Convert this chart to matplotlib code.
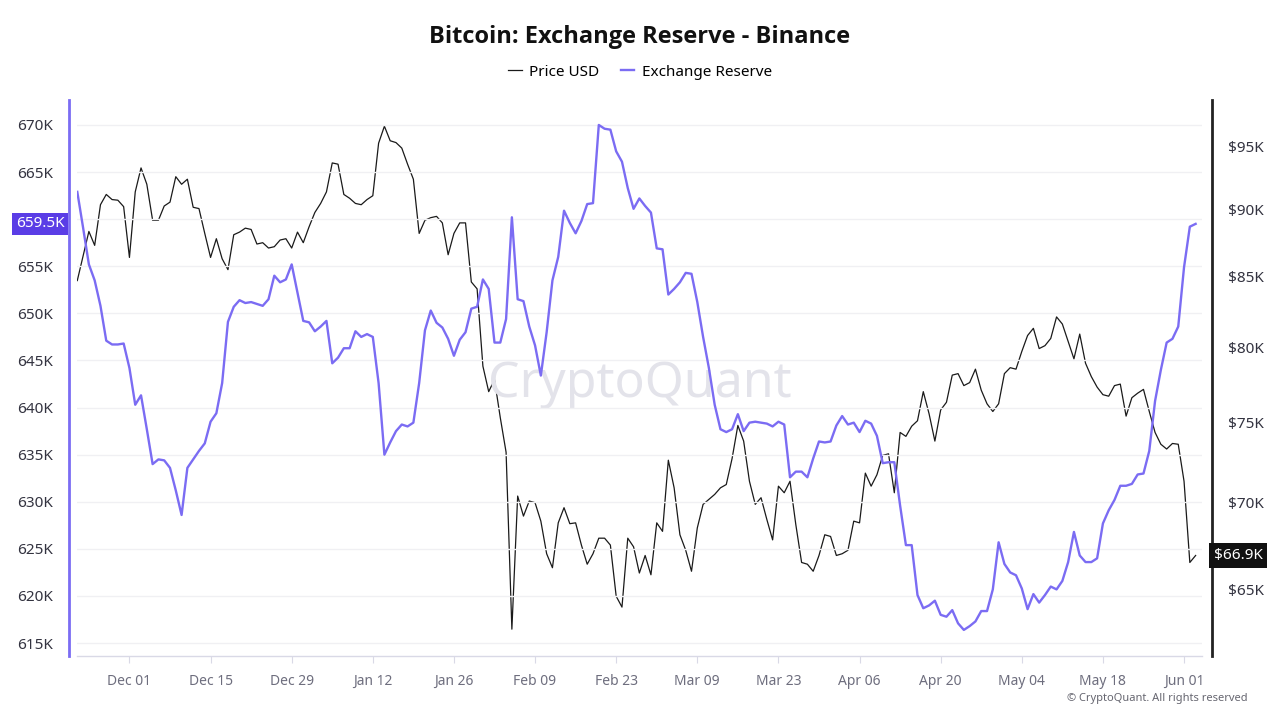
import numpy as np
import pandas as pd
import matplotlib
matplotlib.use('Agg')
import matplotlib.pyplot as plt
import matplotlib.dates as mdates
from matplotlib.ticker import FixedLocator, FuncFormatter, NullLocator
from matplotlib.transforms import blended_transform_factory

plt.rcParams['font.family'] = ['Noto Sans', 'DejaVu Sans']

# daily data, 2025-11-22 .. 2026-06-03
dates = pd.date_range('2025-11-22', periods=194, freq='D')

# Bitcoin price, thousands of USD
price_k = [
    84.7, 86.5, 88.35, 87.3, 90.4, 91.2, 90.8, 90.75, 90.25, 86.4,
    91.4, 93.3, 92.0, 89.2, 89.2, 90.3, 90.6, 92.6, 92.0, 92.4,
    90.2, 90.1, 88.2, 86.4, 87.8, 86.3, 85.5, 88.1, 88.3, 88.6,
    88.5, 87.4, 87.5, 87.1, 87.2, 87.7, 87.8, 87.1, 88.3, 87.5,
    88.7, 89.8, 90.5, 91.4, 93.7, 93.6, 91.2, 90.9, 90.5, 90.4,
    90.8, 91.1, 95.3, 96.7, 95.5, 95.35, 94.9, 93.6, 92.4, 88.2,
    89.2, 89.4, 89.5, 89.0, 86.6, 88.2, 89.0, 89.0, 84.6, 84.1,
    78.7, 77.0, 77.8, 75.3, 73.1, 62.8, 70.4, 69.2, 70.1, 70.0,
    68.9, 67.0, 66.2, 68.8, 69.7, 68.75, 68.8, 67.5, 66.4, 67.0,
    67.9, 67.9, 67.5, 64.6, 64.0, 67.9, 67.4, 65.9, 66.9, 65.8,
    68.8, 68.3, 72.6, 70.9, 68.1, 67.2, 66.0, 68.5, 69.9, 70.2,
    70.5, 70.9, 71.1, 72.7, 74.8, 73.8, 71.3, 69.9, 70.3, 69.0,
    67.8, 71.0, 70.6, 71.3, 68.7, 66.5, 66.4, 66.0, 66.9, 68.1,
    68.0, 66.9, 67.0, 67.2, 68.9, 68.8, 71.8, 71.0, 71.7, 72.9,
    73.0, 70.6, 74.35, 74.1, 74.75, 75.1, 77.0, 75.55, 73.8, 75.8,
    76.3, 78.1, 78.2, 77.4, 77.6, 78.5, 77.1, 76.2, 75.7, 76.2,
    78.2, 78.6, 78.5, 79.7, 80.8, 81.3, 79.9, 80.1, 80.6, 82.1,
    81.6, 80.4, 79.2, 80.9, 78.9, 78.0, 77.3, 76.8, 76.7, 77.4,
    77.5, 75.4, 76.6, 76.9, 77.15, 75.7, 74.35, 73.6, 73.3, 73.65,
    73.6, 71.3, 66.5, 66.9,
]

# Binance BTC reserve, thousands of BTC
reserve_k = [
    662.9, 659.1, 655.2, 653.5, 650.8, 647.1, 646.7, 646.7, 646.8, 644.2,
    640.3, 641.3, 637.7, 634.0, 634.5, 634.4, 633.6, 631.2, 628.6, 633.6,
    634.5, 635.4, 636.2, 638.5, 639.4, 642.6, 649.1, 650.7, 651.4, 651.1,
    651.2, 651.0, 650.8, 651.5, 654.0, 653.3, 653.6, 655.2, 652.2, 649.2,
    649.05, 648.1, 648.6, 649.2, 644.7, 645.3, 646.3, 646.3, 648.1, 647.5,
    647.8, 647.5, 642.6, 635.0, 636.3, 637.5, 638.2, 638.0, 638.4, 642.6,
    648.2, 650.3, 649.0, 648.5, 647.3, 645.5, 647.2, 648.0, 650.5, 650.7,
    653.6, 652.6, 646.9, 646.9, 649.4, 660.2, 651.5, 651.3, 648.6, 646.6,
    643.4, 648.0, 653.5, 656.0, 660.9, 659.6, 658.5, 659.8, 661.6, 661.7,
    670.0, 669.6, 669.5, 667.2, 666.1, 663.3, 661.1, 662.2, 661.4, 660.7,
    656.9, 656.8, 652.0, 652.6, 653.3, 654.3, 654.2, 651.2, 647.5, 644.2,
    640.3, 637.7, 637.4, 637.7, 639.3, 637.5, 638.4, 638.5, 638.4, 638.3,
    638.0, 638.5, 638.2, 632.6, 633.2, 633.2, 632.6, 634.6, 636.4, 636.3,
    636.4, 638.1, 639.1, 638.2, 638.4, 637.4, 638.6, 638.3, 637.0, 634.1,
    634.2, 634.2, 629.6, 625.4, 625.4, 620.1, 618.7, 619.0, 619.5, 618.0,
    617.8, 618.5, 617.1, 616.4, 616.8, 617.3, 618.4, 618.4, 620.7, 625.7,
    623.4, 622.5, 622.2, 620.8, 618.6, 620.2, 619.3, 620.1, 621.0, 620.7,
    621.6, 623.6, 626.8, 624.3, 623.6, 623.6, 624.0, 627.7, 629.1, 630.2,
    631.7, 631.7, 631.9, 632.9, 633.0, 635.4, 640.7, 644.0, 646.9, 647.3,
    648.6, 654.9, 659.2, 659.5,
]

left_ticks = [615, 620, 625, 630, 635, 640, 645, 650, 655, 660, 665, 670]
right_ticks = [65, 70, 75, 80, 85, 90, 95]
x_ticks = pd.date_range('2025-12-01', periods=14, freq='14D')

purple = '#7b6cf3'
badge_purple = '#5a3de6'
grey_txt = '#333340'

fig = plt.figure(figsize=(12.8, 7.2), dpi=100)
ax = fig.add_axes([77 / 1280, 64 / 720, 1125 / 1280, 556 / 720])
ax2 = ax.twinx()

ax2.plot(dates, price_k, color='#1a1a1a', lw=0.9, label='Price USD', zorder=3)
ax.plot(dates, reserve_k, color=purple, lw=1.7, label='Exchange Reserve', zorder=2)

ax.set_zorder(ax2.get_zorder() + 1)
ax.patch.set_visible(False)


def left_fmt(v, p):
    # the 660K label sits under the last-value badge
    if abs(v - 660) < 0.01:
        return ''
    return f'{v:.0f}K'


# left axis (reserve)
ax.set_ylim(613.63, 672.65)
ax.yaxis.set_major_locator(FixedLocator(left_ticks))
ax.yaxis.set_major_formatter(FuncFormatter(left_fmt))
ax.grid(axis='y', color='#f0f0f3', lw=1)
ax.tick_params(axis='y', length=0, pad=11, labelsize=11, labelcolor=grey_txt)

# right axis (price, log)
ax2.set_yscale('log')
ax2.set_ylim(61.37, 98.9)
ax2.yaxis.set_major_locator(FixedLocator(right_ticks))
ax2.yaxis.set_minor_locator(NullLocator())
ax2.yaxis.set_major_formatter(FuncFormatter(lambda v, p: f'${v:.0f}K'))
ax2.tick_params(axis='y', length=0, pad=12, labelsize=11, labelcolor=grey_txt)

# x axis
ax.set_xlim(dates[0] - pd.Timedelta(days=0.05), dates[0] + pd.Timedelta(days=194.1))
ax.xaxis.set_major_locator(FixedLocator(mdates.date2num(x_ticks)))
ax.xaxis.set_major_formatter(mdates.DateFormatter('%b %d'))
ax.tick_params(axis='x', length=5, color='#d9d9e6', pad=8, labelsize=10, labelcolor='#6e6e7e')

for s in ['top', 'right']:
    ax.spines[s].set_visible(False)
for s in ['top', 'left', 'bottom']:
    ax2.spines[s].set_visible(False)
ax.spines['left'].set_position(('outward', 6))
ax.spines['left'].set_color(purple)
ax.spines['left'].set_linewidth(2)
ax.spines['bottom'].set_color('#d9d9e6')
ax.spines['bottom'].set_linewidth(1)
ax2.spines['right'].set_position(('outward', 7))
ax2.spines['right'].set_color('#222222')
ax2.spines['right'].set_linewidth(2)

# last value badges
tl = blended_transform_factory(ax.transAxes, ax.transData)
ax.text(-0.0329, reserve_k[-1], f'{reserve_k[-1]:.1f}K', transform=tl, ha='center', va='center',
        color='white', fontsize=11, clip_on=False, zorder=10,
        bbox=dict(boxstyle='square,pad=0.25', fc=badge_purple, ec='none'))
tr = blended_transform_factory(ax2.transAxes, ax2.transData)
ax2.text(1.0324, price_k[-1], f'${price_k[-1]:.1f}K', transform=tr, ha='center', va='center',
         color='white', fontsize=11, clip_on=False, zorder=10,
         bbox=dict(boxstyle='square,pad=0.3', fc='#111111', ec='none'))

# watermark
ax.text(0.5, 0.49, 'CryptoQuant', transform=ax.transAxes, ha='center', va='center',
        fontsize=36, color='#e3e3ea', zorder=0)

fig.text(0.5, 1 - 37 / 720, 'Bitcoin: Exchange Reserve - Binance', ha='center', va='center',
         fontsize=17, fontweight='bold', color='#111111', family=['Open Sans', 'DejaVu Sans'])

h1, l1 = ax2.get_legend_handles_labels()
h2, l2 = ax.get_legend_handles_labels()
fig.legend(h1 + h2, l1 + l2, loc='center', bbox_to_anchor=(0.5, 1 - 72 / 720), ncol=2,
           frameon=False, fontsize=11, handlelength=0.9, handletextpad=0.5, columnspacing=1.4)

fig.text(1248 / 1280, 1 - 698 / 720, '© CryptoQuant. All rights reserved', ha='right', va='center',
         fontsize=8, color='#666670')

fig.savefig('out.png', dpi=100)
